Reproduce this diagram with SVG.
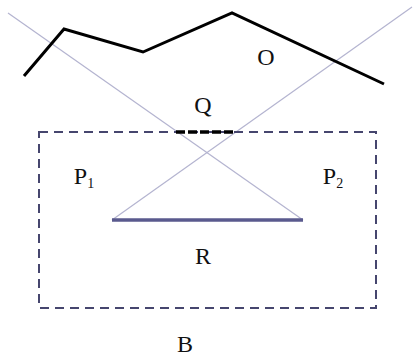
<svg xmlns="http://www.w3.org/2000/svg" width="413" height="358" viewBox="0 0 413 358">
<style>
.lbl{font-family:"Liberation Serif","Times New Roman",serif;font-size:24px;fill:#111;text-anchor:middle}
.sub{font-size:14px}
.ray{stroke:#b4b4d0;stroke-width:1.2;fill:none}
</style>
<rect width="413" height="358" fill="#fff"/>
<g id="connectors">
<line class="ray" x1="8" y1="13" x2="303" y2="220"/>
<line class="ray" x1="412" y1="7" x2="112" y2="220"/>
</g>
<g id="B">
<rect x="39" y="132" width="337" height="176" fill="none" stroke="#46466e" stroke-width="2" stroke-dasharray="9,6"/>
<text class="lbl" x="185" y="352">B</text>
</g>
<g id="O">
<polyline points="24,76 64,29 143,52 232,13 384,84" fill="none" stroke="#000" stroke-width="3"/>
<text class="lbl" x="266" y="65">O</text>
</g>
<g id="Q">
<line x1="176" y1="132" x2="236" y2="132" stroke="#000" stroke-width="3.5" stroke-dasharray="9,3"/>
<text class="lbl" x="203" y="113">Q</text>
</g>
<g id="R">
<line x1="112" y1="220" x2="303" y2="220" stroke="#5a5a8e" stroke-width="3.5"/>
<text class="lbl" x="203" y="264">R</text>
</g>
<g id="P1">
<text class="lbl" x="84" y="184">P<tspan class="sub" dy="4">1</tspan></text>
</g>
<g id="P2">
<text class="lbl" x="333" y="184">P<tspan class="sub" dy="4">2</tspan></text>
</g>
</svg>
